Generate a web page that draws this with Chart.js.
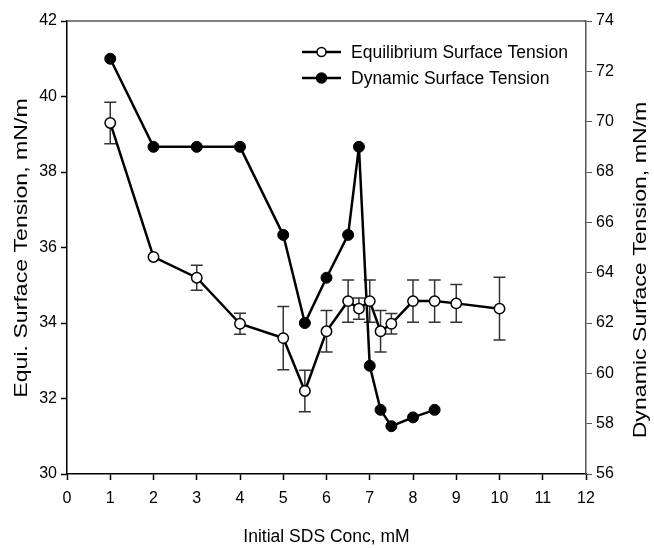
<!DOCTYPE html>
<html>
<head>
<meta charset="utf-8">
<script src="https://cdn.jsdelivr.net/npm/chart.js@4"></script>
<style>
  html, body { margin: 0; padding: 0; background: #fff; }
  #wrap { width: 654px; height: 548px; }
</style>
</head>
<body>
<div id="wrap"><canvas id="tensionChart" width="654" height="548"></canvas></div>
<script>
// data
const concEqui = [1, 2, 3, 4, 5, 5.5, 6, 6.5, 6.75, 7, 7.25, 7.5, 8, 8.5, 9, 10];
const equiTension = [39.3, 35.75, 35.2, 33.98, 33.6, 32.2, 33.78, 34.58, 34.38, 34.58, 33.78, 33.98, 34.58, 34.58, 34.52, 34.38];
const equiError = [0.55, 0, 0.33, 0.28, 0.84, 0.55, 0.55, 0.56, 0.28, 0.56, 0.55, 0.27, 0.56, 0.56, 0.5, 0.83];
const concDyn = [1, 2, 3, 4, 5, 5.5, 6, 6.5, 6.75, 7, 7.25, 7.5, 8, 8.5];
const dynTension = [72.5, 69, 69, 69, 65.5, 62, 63.8, 65.5, 69, 60.3, 58.55, 57.9, 58.25, 58.55];
const seriesNames = ['Equilibrium Surface Tension', 'Dynamic Surface Tension'];
const axisTitles = ['Initial SDS Conc, mM', 'Equi. Surface Tension, mN/m', 'Dynamic Surface Tension, mN/m'];

const FONT = '"Liberation Sans", Arial, sans-serif';

const toPoints = (xs, ys) => xs.map((x, i) => ({ x: x, y: ys[i] }));

// error bars for the equilibrium series
const errorBars = {
  id: 'errorBars',
  beforeDatasetsDraw(chart) {
    const ctx = chart.ctx;
    const xs = chart.scales.x, ys = chart.scales.y;
    ctx.save();
    ctx.strokeStyle = '#333';
    ctx.lineWidth = 1.5;
    concEqui.forEach((c, i) => {
      const e = equiError[i];
      if (!e) return;
      const px = xs.getPixelForValue(c);
      const top = ys.getPixelForValue(equiTension[i] + e);
      const bot = ys.getPixelForValue(equiTension[i] - e);
      ctx.beginPath();
      ctx.moveTo(px, top); ctx.lineTo(px, bot);
      ctx.moveTo(px - 6, top); ctx.lineTo(px + 6, top);
      ctx.moveTo(px - 6, bot); ctx.lineTo(px + 6, bot);
      ctx.stroke();
    });
    ctx.restore();
  }
};

// vertical title, reading bottom to top, a bit stretched along its length like the original
function drawVerticalTitle(ctx, text, baseX, midY) {
  ctx.save();
  ctx.fillStyle = '#000';
  ctx.font = '18.5px ' + FONT;
  ctx.textAlign = 'center';
  ctx.textBaseline = 'alphabetic';
  ctx.translate(baseX, midY);
  ctx.rotate(-Math.PI / 2);
  ctx.scale(1.25, 1);
  ctx.fillText(text, 0, 0);
  ctx.restore();
}

// top frame line, y titles and the legend
const extras = {
  id: 'extras',
  afterDraw(chart) {
    const ctx = chart.ctx;
    const a = chart.chartArea;
    ctx.save();
    ctx.strokeStyle = '#555';
    ctx.lineWidth = 1.5;
    ctx.beginPath();
    ctx.moveTo(a.left, a.top);
    ctx.lineTo(a.right, a.top);
    ctx.stroke();
    ctx.restore();

    drawVerticalTitle(ctx, axisTitles[1], 27, 248);
    drawVerticalTitle(ctx, axisTitles[2], 646, 270);

    // legend
    ctx.save();
    const rows = [52, 78];
    rows.forEach((y, i) => {
      ctx.strokeStyle = '#000';
      ctx.lineWidth = 2.5;
      ctx.beginPath();
      ctx.moveTo(302, y); ctx.lineTo(341, y);
      ctx.stroke();
      ctx.beginPath();
      ctx.arc(321.5, y, i === 0 ? 4.5 : 5, 0, Math.PI * 2);
      ctx.fillStyle = i === 0 ? '#fff' : '#000';
      ctx.fill();
      ctx.lineWidth = 1.5;
      ctx.stroke();
      ctx.fillStyle = '#000';
      ctx.font = '17.5px ' + FONT;
      ctx.textAlign = 'left';
      ctx.textBaseline = 'middle';
      ctx.fillText(seriesNames[i], 351, y + 1);
    });
    ctx.restore();
  }
};

const tickFont = { family: FONT, size: 16 };

new Chart(document.getElementById('tensionChart').getContext('2d'), {
  type: 'line',
  data: {
    datasets: [
      {
        label: seriesNames[0],
        data: toPoints(concEqui, equiTension),
        yAxisID: 'y',
        borderColor: '#000',
        borderWidth: 2.5,
        pointRadius: 5.2,
        pointBackgroundColor: '#fff',
        pointBorderColor: '#000',
        pointBorderWidth: 1.5,
        tension: 0,
        order: 1
      },
      {
        label: seriesNames[1],
        data: toPoints(concDyn, dynTension),
        yAxisID: 'y2',
        borderColor: '#000',
        borderWidth: 2.5,
        pointRadius: 5.5,
        pointBackgroundColor: '#000',
        pointBorderColor: '#000',
        pointBorderWidth: 1,
        tension: 0,
        order: 2
      }
    ]
  },
  options: {
    responsive: false,
    animation: false,
    layout: { padding: { top: 21, left: 0, right: 0, bottom: 0 } },
    plugins: {
      legend: { display: false },
      tooltip: { enabled: false }
    },
    scales: {
      x: {
        type: 'linear',
        min: 0,
        max: 12,
        ticks: { stepSize: 1, color: '#000', font: tickFont, padding: 9, maxRotation: 0 },
        grid: { drawOnChartArea: false, tickLength: 6, color: '#000', tickWidth: 1.5 },
        border: { color: '#000', width: 1.5 },
        title: { display: true, text: axisTitles[0], color: '#000', font: { family: FONT, size: 17.5 }, padding: 0 },
        afterFit: s => { s.height = 74; }
      },
      y: {
        position: 'left',
        min: 30,
        max: 42,
        ticks: { stepSize: 2, color: '#000', font: tickFont, padding: 4 },
        grid: { drawOnChartArea: false, tickLength: 6, color: '#000', tickWidth: 1.5 },
        border: { color: '#000', width: 1.5 },
        afterFit: s => { s.width = 67; }
      },
      y2: {
        position: 'right',
        min: 56,
        max: 74,
        ticks: { stepSize: 2, color: '#000', font: tickFont, padding: 4 },
        grid: { drawOnChartArea: false, tickLength: 6, color: '#555', tickWidth: 1 },
        border: { color: '#555', width: 1.5 },
        afterFit: s => { s.width = 68; }
      }
    }
  },
  plugins: [errorBars, extras]
});
</script>
</body>
</html>
